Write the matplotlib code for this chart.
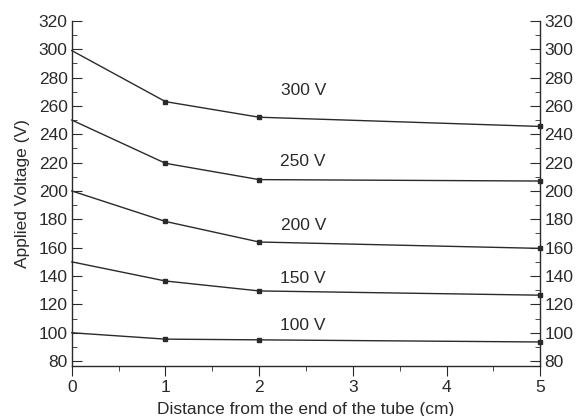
import matplotlib
matplotlib.use("Agg")
import matplotlib.pyplot as plt
from matplotlib.ticker import MultipleLocator

plt.rcParams['font.family'] = ['Liberation Sans', 'DejaVu Sans']

distance = [0, 1, 2, 5]
series_labels = ["300 V", "250 V", "200 V", "150 V", "100 V"]
series_values = [
    [299, 263, 252, 245.5],
    [250, 219.5, 208, 207],
    [200, 178.5, 164, 159.5],
    [150, 136.5, 129.5, 126.5],
    [100, 95.5, 95, 93.5],
]
label_x = [2.47, 2.47, 2.47, 2.47, 2.47]
label_y = [271, 221, 175.5, 138, 105]

fig = plt.figure(figsize=(5.79, 4.16), dpi=100)
ax = fig.add_axes([0.124, 0.12, 0.809, 0.83])
col = '#2a2a2a'
fs = 12.5
for vals, lab, lx, ly in zip(series_values, series_labels, label_x, label_y):
    ax.plot(distance, vals, color=col, lw=1.0, clip_on=False)
    ax.plot(distance[1:], vals[1:], ls='none', marker='s', ms=3, color=col, clip_on=False)
    ax.text(lx, ly, lab, ha='center', va='center', fontsize=fs, color=col)

ax.set_xlim(0, 5)
ax.set_ylim(76.5, 320)
ax.xaxis.set_major_locator(MultipleLocator(1))
ax.xaxis.set_minor_locator(MultipleLocator(0.5))
ax.yaxis.set_major_locator(MultipleLocator(20))
ax.yaxis.set_minor_locator(MultipleLocator(10))
ax.set_yticks(range(80, 321, 20))
ax.spines['top'].set_visible(False)
for s in ['left', 'right', 'bottom']:
    ax.spines[s].set_color(col)
    ax.spines[s].set_linewidth(1.0)
ax.tick_params(axis='x', which='both', direction='out', colors=col, labelsize=fs)
ax.tick_params(axis='x', which='major', length=7, pad=3)
ax.tick_params(axis='x', which='minor', length=3.5)
ax.tick_params(axis='y', which='both', direction='in', left=True, right=True,
               labelleft=True, labelright=True, colors=col, labelsize=fs)
ax.tick_params(axis='y', which='major', length=7, pad=3)
ax.tick_params(axis='y', which='minor', length=3.5)
ax.set_xlabel("Distance from the end of the tube (cm)", fontsize=fs, color=col, labelpad=5)
ax.set_ylabel("Applied Voltage (V)", fontsize=fs, color=col, labelpad=6)
fig.savefig("out.png", dpi=100)
